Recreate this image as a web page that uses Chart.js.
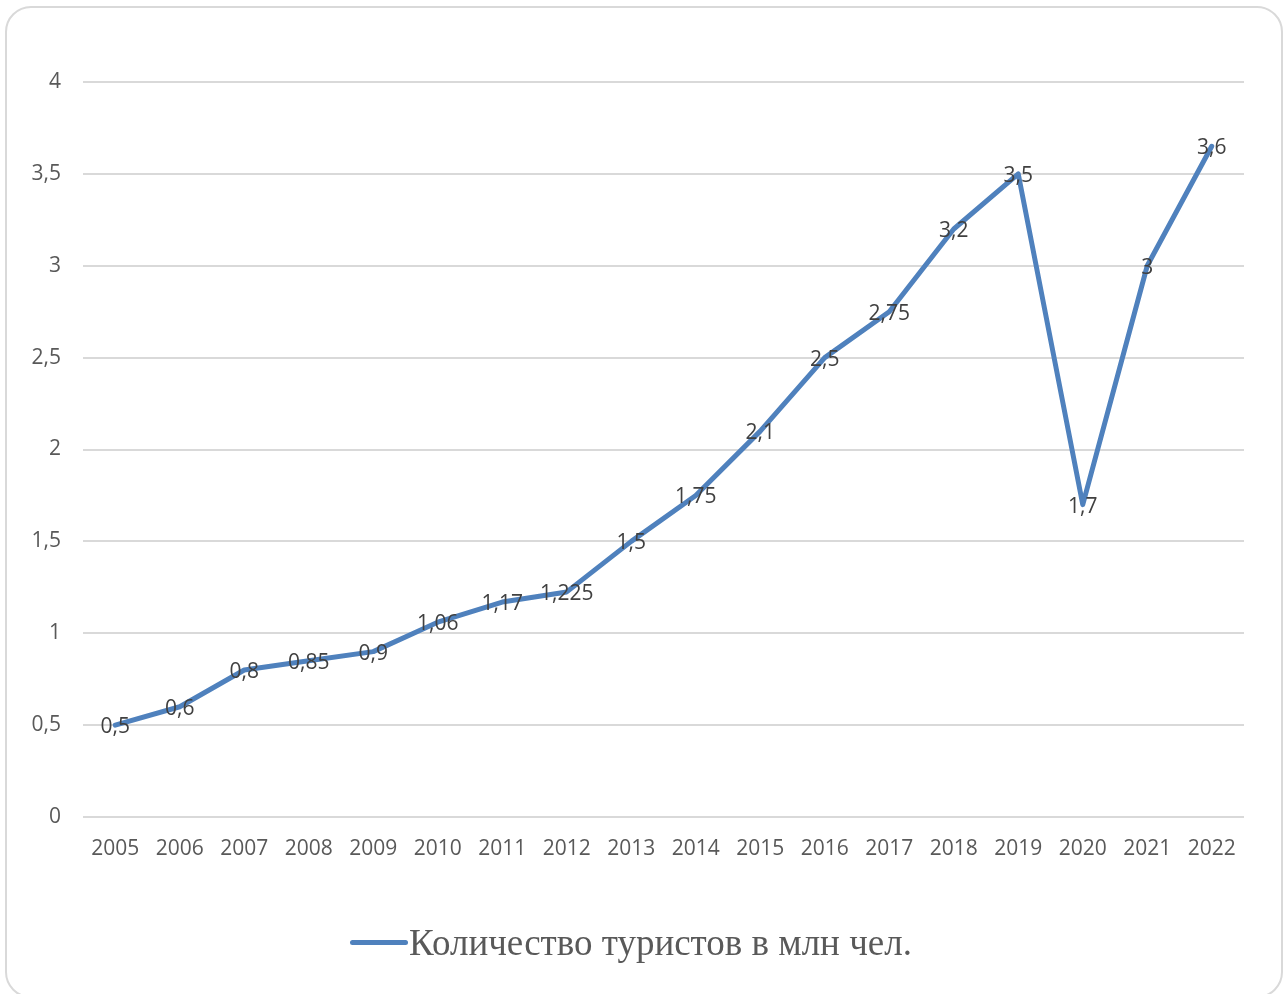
<!DOCTYPE html>
<html>
<head>
<meta charset="utf-8">
<script src="https://cdn.jsdelivr.net/npm/chart.js@4/dist/chart.umd.min.js"></script>
<style>
  html, body { margin: 0; padding: 0; background: #fff; overflow: hidden; }
  #frame {
    position: absolute; left: 5px; top: 6px; width: 1278px; height: 992px;
    border: 2px solid #d9d9d9; border-radius: 26px; box-sizing: border-box;
  }
  #chart { position: absolute; left: 0; top: 0; }
  #legend {
    position: absolute; left: -13px; top: 916px; width: 1288px; height: 52px;
    display: flex; align-items: center; justify-content: center;
    font-family: "Liberation Serif", serif; font-size: 37px; color: #595959;
  }
  #legend .swatch {
    display: inline-block; width: 58px; height: 5px; border-radius: 3px;
    background: #4f81bd; margin-right: 1px;
  }
</style>
</head>
<body>
<div id="frame"></div>
<canvas id="chart" width="1288" height="994"></canvas>
<div id="legend"><span class="swatch"></span><span id="legendText"></span></div>
<script>
// данные
var years = ["2005","2006","2007","2008","2009","2010","2011","2012","2013","2014","2015","2016","2017","2018","2019","2020","2021","2022"];
var tourists = [0.5, 0.6, 0.8, 0.85, 0.9, 1.06, 1.17, 1.225, 1.5, 1.75, 2.1, 2.5, 2.75, 3.2, 3.5, 1.7, 3, 3.65];
var pointTexts = ["0,5","0,6","0,8","0,85","0,9","1,06","1,17","1,225","1,5","1,75","2,1","2,5","2,75","3,2","3,5","1,7","3","3,6"];
var seriesName = "Количество туристов в млн чел.";

document.getElementById("legendText").textContent = seriesName;

var labelsPlugin = {
  id: 'pointTexts',
  afterDatasetsDraw: function(chart) {
    var ctx = chart.ctx;
    var meta = chart.getDatasetMeta(0);
    ctx.save();
    ctx.font = '21px "Open Sans"';
    ctx.fillStyle = '#404040';
    ctx.textAlign = 'center';
    ctx.textBaseline = 'middle';
    meta.data.forEach(function(pt, i) {
      ctx.fillText(pointTexts[i], pt.x, pt.y + 2);
    });
    ctx.restore();
  }
};

var ctx = document.getElementById("chart").getContext('2d');
var myChart = new Chart(ctx, {
  type: 'line',
  data: {
    labels: years,
    datasets: [{
      label: seriesName,
      data: tourists,
      borderColor: '#4f81bd',
      backgroundColor: '#4f81bd',
      borderWidth: 5,
      pointRadius: 0,
      borderCapStyle: 'round',
      borderJoinStyle: 'round',
      tension: 0
    }]
  },
  options: {
    responsive: false,
    animation: false,
    layout: { padding: { left: 0, right: 44, top: 82, bottom: 117 } },
    scales: {
      x: {
        offset: true,
        grid: { display: false, drawTicks: false },
        border: { display: false },
        ticks: { color: '#595959', font: { family: 'Open Sans', size: 21 }, padding: 19, maxRotation: 0, autoSkip: false },
        afterFit: function(scale) { scale.height = 60; }
      },
      y: {
        min: 0, max: 4,
        grid: { color: '#d9d9d9', lineWidth: 2, drawTicks: false },
        border: { display: false },
        ticks: {
          stepSize: 0.5, color: '#595959', padding: 22,
          font: { family: 'Open Sans', size: 21 },
          callback: function(v) { return String(v).replace('.', ','); }
        },
        afterFit: function(scale) { scale.width = 83; }
      }
    },
    plugins: {
      legend: { display: false },
      tooltip: { enabled: false }
    }
  },
  plugins: [labelsPlugin]
});
</script>
</body>
</html>
